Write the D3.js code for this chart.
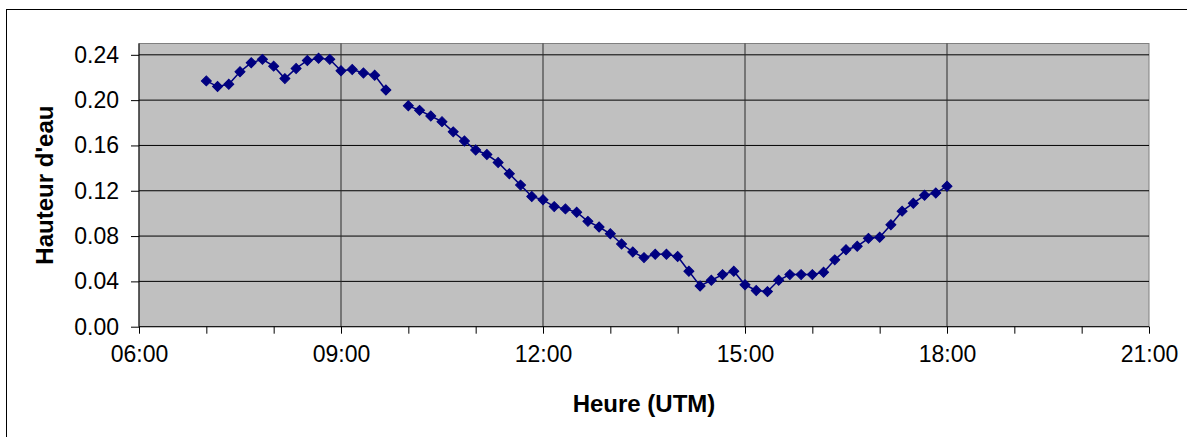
<!DOCTYPE html>
<html>
<head>
<meta charset="utf-8">
<script src="https://cdn.jsdelivr.net/npm/d3@7"></script>
<style>
    body { margin: 0; background: #fff; }
    svg { display: block; font-family: "Liberation Sans", Arial, sans-serif; }
</style>
</head>
<body>
<div id="chart"></div>
<script>
// time of each reading (UTM) and water height, one reading every 10 min
var times = [
    "07:00", "07:10", "07:20", "07:30", "07:40", "07:50",
    "08:00", "08:10", "08:20", "08:30", "08:40", "08:50",
    "09:00", "09:10", "09:20", "09:30", "09:40", "09:50",
    "10:00", "10:10", "10:20", "10:30", "10:40", "10:50",
    "11:00", "11:10", "11:20", "11:30", "11:40", "11:50",
    "12:00", "12:10", "12:20", "12:30", "12:40", "12:50",
    "13:00", "13:10", "13:20", "13:30", "13:40", "13:50",
    "14:00", "14:10", "14:20", "14:30", "14:40", "14:50",
    "15:00", "15:10", "15:20", "15:30", "15:40", "15:50",
    "16:00", "16:10", "16:20", "16:30", "16:40", "16:50",
    "17:00", "17:10", "17:20", "17:30", "17:40", "17:50",
    "18:00"
];

var hauteur = [
    0.217, 0.212, 0.214, 0.225, 0.233, 0.236,
    0.230, 0.219, 0.228, 0.235, 0.237, 0.236,
    0.226, 0.227, 0.224, 0.222, 0.209, null,
    0.195, 0.191, 0.186, 0.181, 0.172, 0.164,
    0.156, 0.152, 0.145, 0.135, 0.125, 0.115,
    0.112, 0.106, 0.104, 0.101, 0.093, 0.088,
    0.082, 0.073, 0.066, 0.061, 0.064, 0.064,
    0.062, 0.049, 0.036, 0.041, 0.046, 0.049,
    0.037, 0.032, 0.031, 0.041, 0.046, 0.046,
    0.046, 0.048, 0.059, 0.068, 0.071, 0.078,
    0.079, 0.090, 0.102, 0.109, 0.116, 0.118,
    0.124
];

var xMajorTicks = [6, 9, 12, 15, 18, 21];
var xMinorTicks = [7, 8, 10, 11, 13, 14, 16, 17, 19, 20];
var yTicks = [0, 0.04, 0.08, 0.12, 0.16, 0.20, 0.24];

var width = 1187, height = 437;
var plot = {left: 139, top: 43.5, right: 1149, bottom: 326.7};

function toHours(s) {
    var p = s.split(":");
    return +p[0] + (+p[1]) / 60;
}

function hourLabel(h) {
    return (h < 10 ? "0" : "") + h + ":00";
}

var data = times.map(function (t, i) {
    return {x: toHours(t), y: hauteur[i]};
});

var x = d3.scaleLinear().domain([6, 21]).range([plot.left, plot.right]);
var y = d3.scaleLinear().domain([0, 0.25]).range([plot.bottom, plot.top]);

var svg = d3.select("#chart").append("svg")
    .attr("width", width)
    .attr("height", height);

// outer chart frame (runs off the right and bottom of the picture)
svg.append("rect")
    .attr("x", 6.5)
    .attr("y", 9.5)
    .attr("width", width)
    .attr("height", height)
    .attr("fill", "#fff")
    .attr("stroke", "#000")
    .attr("stroke-width", 1);

// plot area
svg.append("rect")
    .attr("x", plot.left)
    .attr("y", plot.top)
    .attr("width", plot.right - plot.left)
    .attr("height", plot.bottom - plot.top)
    .attr("fill", "#c0c0c0")
    .attr("stroke", "#808080")
    .attr("stroke-width", 1);

// horizontal gridlines
svg.append("g")
    .attr("class", "grid-y")
    .selectAll("line")
    .data(yTicks.filter(function (d) { return d > 0; }))
    .enter()
    .append("line")
    .attr("x1", plot.left)
    .attr("x2", plot.right)
    .attr("y1", function (d) { return y(d); })
    .attr("y2", function (d) { return y(d); })
    .attr("stroke", "#000")
    .attr("stroke-width", 1);

// vertical gridlines
svg.append("g")
    .attr("class", "grid-x")
    .selectAll("line")
    .data(xMajorTicks.filter(function (d) { return d > 6 && d < 21; }))
    .enter()
    .append("line")
    .attr("x1", function (d) { return x(d); })
    .attr("x2", function (d) { return x(d); })
    .attr("y1", plot.top)
    .attr("y2", plot.bottom)
    .attr("stroke", "#2a2a2a")
    .attr("stroke-width", 1);

// y axis
var yAxis = d3.axisLeft(y)
    .tickValues(yTicks)
    .tickSize(8)
    .tickPadding(12)
    .tickFormat(d3.format(".2f"));

var gy = svg.append("g")
    .attr("transform", "translate(" + plot.left + ",0)")
    .call(yAxis);

gy.select(".domain").remove();
gy.append("line")
    .attr("x1", 0).attr("x2", 0)
    .attr("y1", plot.top).attr("y2", plot.bottom)
    .attr("stroke", "#000");
gy.selectAll("text")
    .attr("font-size", 23)
    .attr("fill", "#000")
    .attr("font-family", "Liberation Sans, Arial, sans-serif");

// x axis, minor ticks first then the labelled ones
var gxMinor = svg.append("g")
    .attr("transform", "translate(0," + plot.bottom + ")")
    .call(d3.axisBottom(x).tickValues(xMinorTicks).tickSize(7).tickFormat(""));
gxMinor.select(".domain").remove();

var gx = svg.append("g")
    .attr("transform", "translate(0," + plot.bottom + ")")
    .call(d3.axisBottom(x)
        .tickValues(xMajorTicks)
        .tickSize(7)
        .tickPadding(12)
        .tickFormat(hourLabel));

gx.select(".domain").remove();
gx.append("line")
    .attr("x1", plot.left).attr("x2", plot.right)
    .attr("y1", 0).attr("y2", 0)
    .attr("stroke", "#000");
gx.selectAll("text")
    .attr("font-size", 23)
    .attr("fill", "#000")
    .attr("font-family", "Liberation Sans, Arial, sans-serif");

// series
var line = d3.line()
    .defined(function (d) { return d.y !== null; })
    .x(function (d) { return x(d.x); })
    .y(function (d) { return y(d.y); });

svg.append("path")
    .datum(data)
    .attr("d", line)
    .attr("fill", "none")
    .attr("stroke", "#000080")
    .attr("stroke-width", 1.5);

var diamond = d3.symbol().type(d3.symbolSquare).size(50);

svg.append("g")
    .attr("class", "markers")
    .selectAll("path")
    .data(data.filter(function (d) { return d.y !== null; }))
    .enter()
    .append("path")
    .attr("d", diamond)
    .attr("transform", function (d) {
        return "translate(" + x(d.x) + "," + y(d.y) + ") rotate(45)";
    })
    .attr("fill", "#000080")
    .attr("stroke", "#000080")
    .attr("stroke-width", 1);

// axis titles
svg.append("text")
    .attr("x", (plot.left + plot.right) / 2)
    .attr("y", 412)
    .attr("text-anchor", "middle")
    .attr("font-size", 24)
    .attr("font-weight", "bold")
    .text("Heure (UTM)");

svg.append("text")
    .attr("transform", "translate(53," + ((plot.top + plot.bottom) / 2) + ") rotate(-90)")
    .attr("text-anchor", "middle")
    .attr("font-size", 24)
    .attr("font-weight", "bold")
    .text("Hauteur d'eau");
</script>
</body>
</html>
